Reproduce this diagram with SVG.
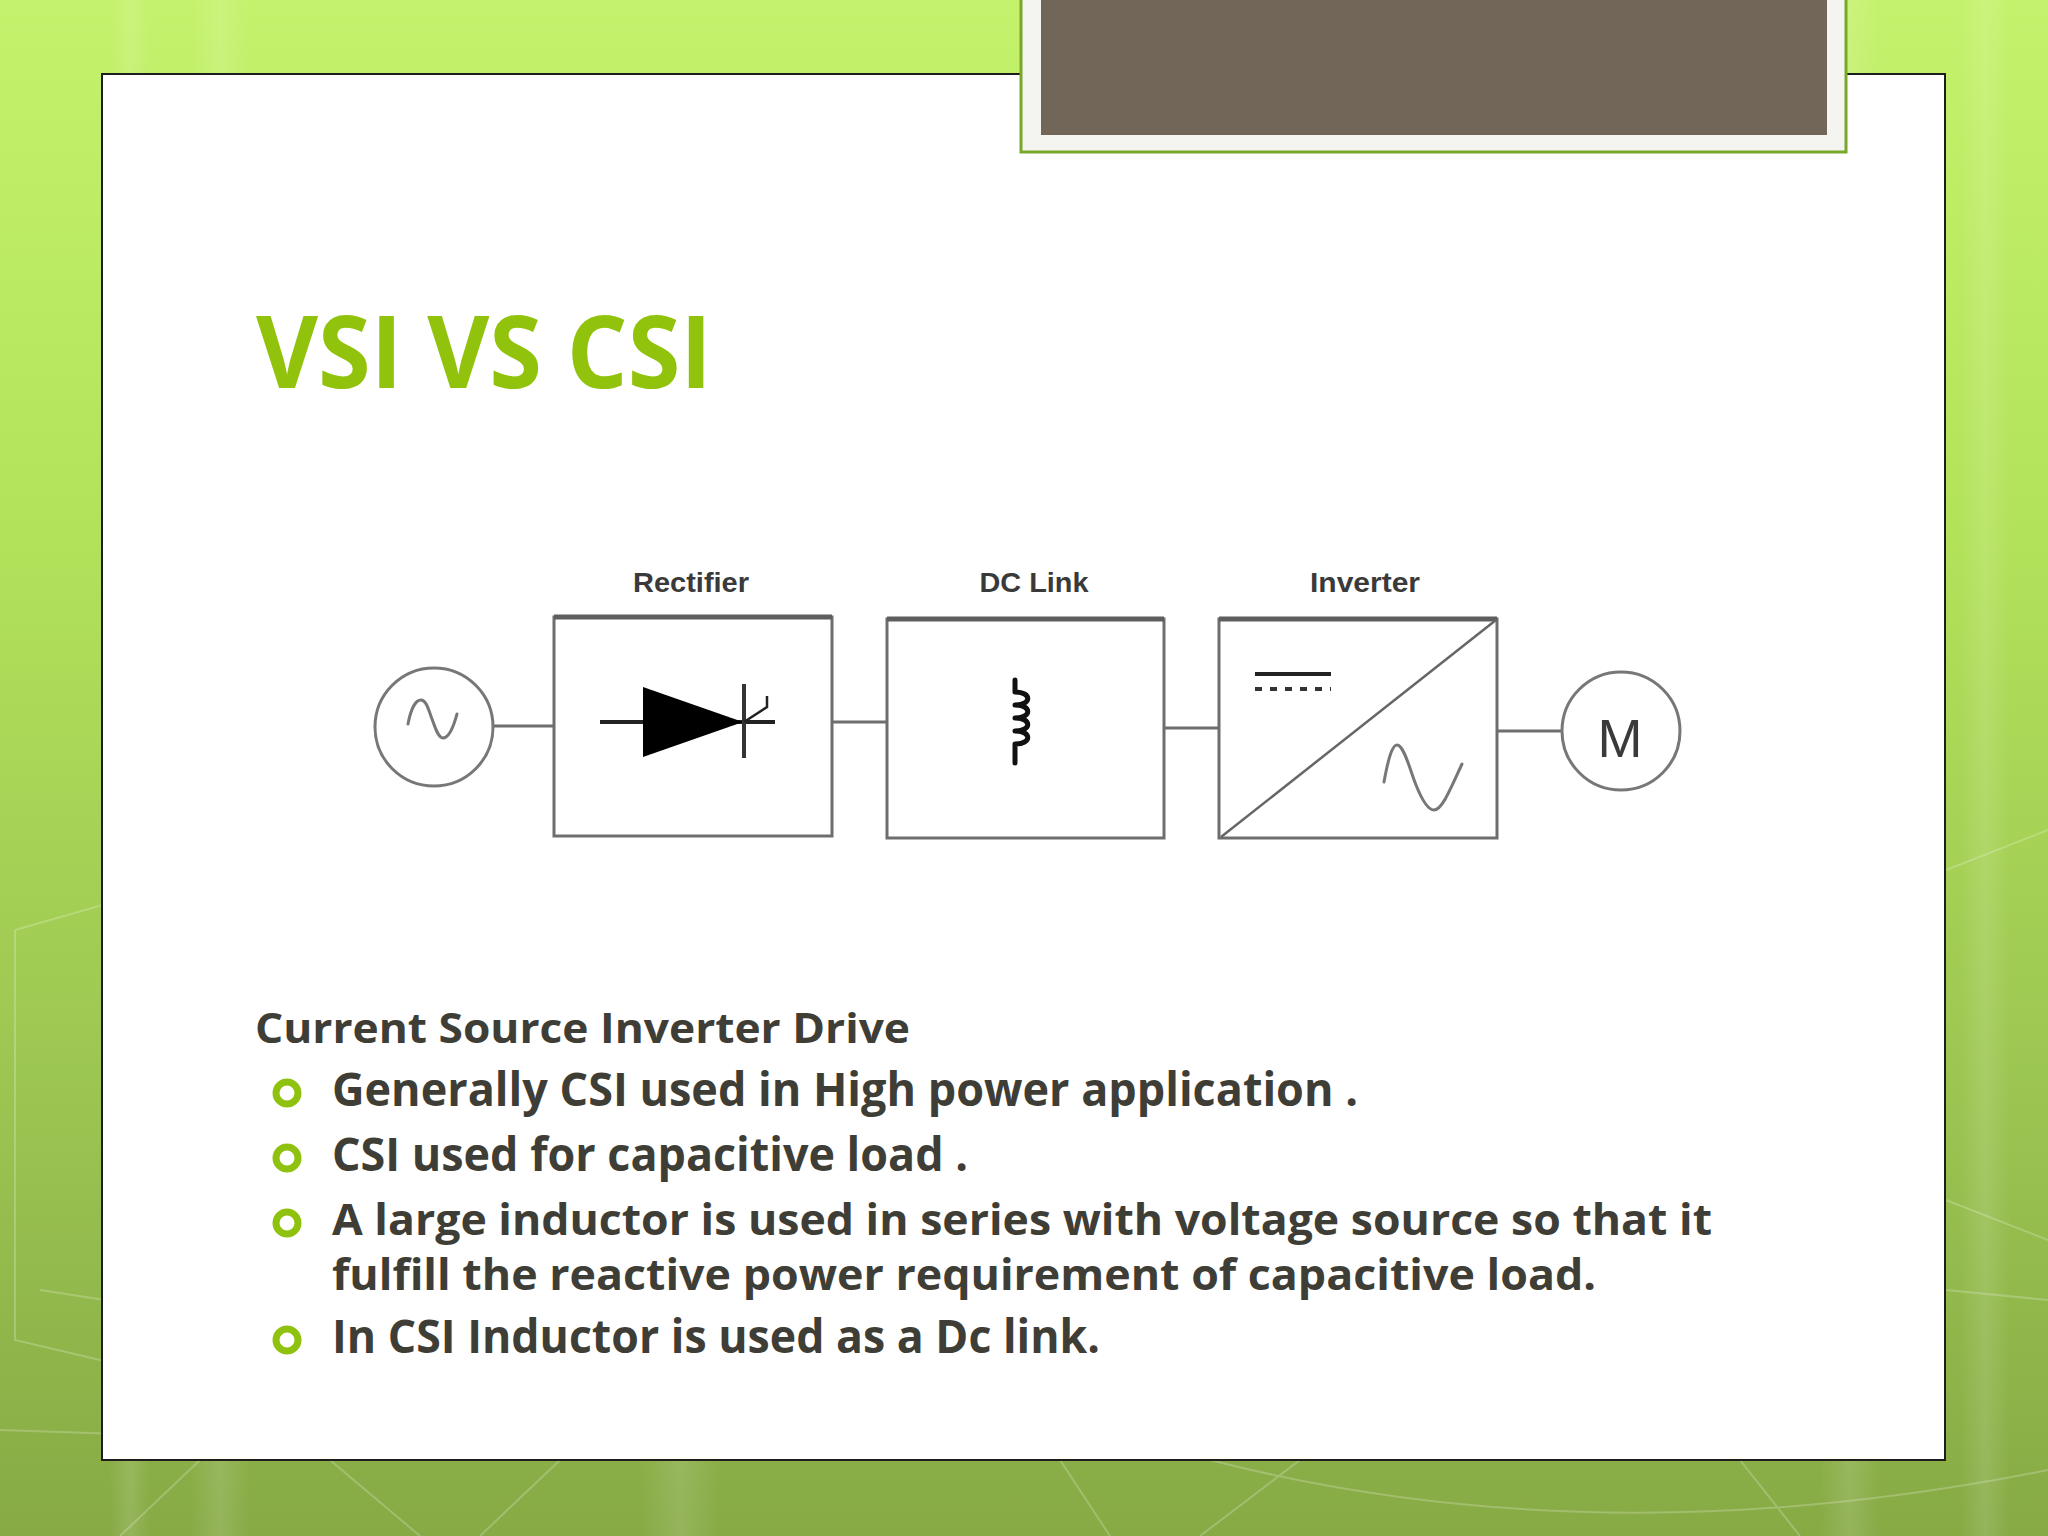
<svg xmlns="http://www.w3.org/2000/svg" width="2048" height="1536" viewBox="0 0 2048 1536">
  <defs>
    <linearGradient id="bg" x1="0" y1="0" x2="0" y2="1">
      <stop offset="0" stop-color="#c4f26c"/>
      <stop offset="0.35" stop-color="#b2e25a"/>
      <stop offset="0.7" stop-color="#9cc652"/>
      <stop offset="1" stop-color="#87aa45"/>
    </linearGradient>
    <linearGradient id="side" x1="0" y1="0" x2="1" y2="0">
      <stop offset="0" stop-color="#ffffff" stop-opacity="0"/>
      <stop offset="0.5" stop-color="#ffffff" stop-opacity="0.12"/>
      <stop offset="1" stop-color="#ffffff" stop-opacity="0"/>
    </linearGradient>
    <style>
      .box { fill: #ffffff; stroke: #6e6e6e; stroke-width: 3; }
      .top { stroke: #5e5e5e; stroke-width: 5; }
      .wire { stroke: #6e6e6e; stroke-width: 3; fill: none; }
      .sym { fill: none; stroke: #777777; stroke-width: 3; stroke-linecap: round; stroke-linejoin: round; }
      .lbl { font-family: "Liberation Sans", Arial, sans-serif; font-weight: bold; font-size: 28px; fill: #3a3a3a; text-anchor: middle; }
      .body { font-family: "Open Sans", "Liberation Sans", sans-serif; font-weight: bold; fill: #3f3e36; }
      .bul { fill: none; stroke: #8fc20f; stroke-width: 7; }
      .deco { fill: none; stroke: #ffffff; stroke-opacity: 0.22; stroke-width: 2; }
    </style>
  </defs>

  <!-- background -->
  <rect x="0" y="0" width="2048" height="1536" fill="url(#bg)"/>
  <rect x="110" y="0" width="40" height="1536" fill="url(#side)"/>
  <rect x="190" y="0" width="60" height="1536" fill="url(#side)"/>
  <rect x="640" y="1460" width="80" height="76" fill="url(#side)"/>
  <rect x="1820" y="0" width="60" height="1536" fill="url(#side)"/>
  <rect x="1960" y="0" width="50" height="1536" fill="url(#side)"/>
  <path class="deco" d="M15,930 L120,900 L300,940 M15,930 L15,1340 L100,1360 L300,1320 M0,1430 L300,1440 M40,1290 L300,1330"/>
  <path class="deco" d="M200,1460 L120,1536 M330,1460 L420,1536 M560,1460 L480,1536 M1060,1460 L1110,1536 M1300,1460 L1200,1536 M1740,1460 L1800,1536 M1210,1460 Q1600,1560 2048,1470"/>
  <path class="deco" d="M1946,870 L2048,830 M1946,1200 L2048,1240 M1946,1290 L2048,1300"/>

  <!-- content panel -->
  <rect x="102" y="74" width="1843" height="1386" fill="#ffffff" stroke="#1e1e1e" stroke-width="2"/>

  <!-- top tab -->
  <g id="tab">
    <rect x="1021" y="-4" width="825" height="156" fill="#f4f4f1" stroke="#78a82a" stroke-width="3"/>
    <rect x="1041" y="0" width="786" height="135" fill="#726659"/>
  </g>

  <!-- title -->
  <text id="title" x="256" y="388" font-family="'Open Sans', 'Liberation Sans', sans-serif" font-weight="bold" font-size="100" fill="#92c30c" textLength="456" lengthAdjust="spacingAndGlyphs">VSI VS CSI</text>

  <!-- connectors -->
  <g id="connectors">
    <line class="wire" x1="493" y1="726" x2="554" y2="726"/>
    <line class="wire" x1="832" y1="722" x2="887" y2="722"/>
    <line class="wire" x1="1164" y1="728" x2="1219" y2="728"/>
    <line class="wire" x1="1497" y1="731" x2="1562" y2="731"/>
  </g>

  <!-- AC source -->
  <g id="source">
    <circle cx="434" cy="727" r="59" fill="#ffffff" stroke="#777777" stroke-width="3"/>
    <path class="sym" d="M408,724 C411,708 416,700 421,700 C427,700 429,712 432,719 C435,727 438,738 443,738 C449,738 454,725 457,714"/>
  </g>

  <!-- Rectifier -->
  <g id="rectifier">
    <rect class="box" x="554" y="617" width="278" height="219"/>
    <line class="top" x1="554" y1="617" x2="832" y2="617"/>
    <text class="lbl" x="691" y="592" textLength="116" lengthAdjust="spacingAndGlyphs">Rectifier</text>
    <line x1="600" y1="722" x2="775" y2="722" stroke="#222222" stroke-width="4"/>
    <polygon points="643,687 743,722 643,757" fill="#000000"/>
    <line x1="744" y1="684" x2="744" y2="758" stroke="#333333" stroke-width="4"/>
    <polyline points="744,722 767,707 767,696" fill="none" stroke="#222222" stroke-width="2.5"/>
  </g>

  <!-- DC Link -->
  <g id="dclink">
    <rect class="box" x="887" y="619" width="277" height="219"/>
    <line class="top" x1="887" y1="619" x2="1164" y2="619"/>
    <text class="lbl" x="1034" y="592" textLength="109" lengthAdjust="spacingAndGlyphs">DC Link</text>
    <path d="M1015,680 V692 c17,0 17,13 0,13 c17,0 17,13 0,13 c17,0 17,13 0,13 c17,0 17,13 0,13 V763" fill="none" stroke="#111111" stroke-width="5" stroke-linecap="round" stroke-linejoin="round"/>
  </g>

  <!-- Inverter -->
  <g id="inverter">
    <rect class="box" x="1219" y="619" width="278" height="219"/>
    <line class="top" x1="1219" y1="619" x2="1497" y2="619"/>
    <text class="lbl" x="1365" y="592" textLength="110" lengthAdjust="spacingAndGlyphs">Inverter</text>
    <line x1="1221" y1="837" x2="1496" y2="620" stroke="#666666" stroke-width="2.5"/>
    <line x1="1255" y1="674" x2="1331" y2="674" stroke="#222222" stroke-width="4"/>
    <line x1="1255" y1="689" x2="1331" y2="689" stroke="#333333" stroke-width="4" stroke-dasharray="7,8"/>
    <path class="sym" d="M1384,782 C1388,760 1392,745 1397,745 C1404,745 1410,770 1416,785 C1422,800 1428,810 1434,810 C1442,810 1450,790 1462,764"/>
  </g>

  <!-- Motor -->
  <g id="motor">
    <circle cx="1621" cy="731" r="59" fill="#ffffff" stroke="#777777" stroke-width="3"/>
    <text x="1620" y="757" font-family="'Liberation Sans', Arial, sans-serif" font-size="54" fill="#3a3a3a" text-anchor="middle">M</text>
  </g>

  <!-- text body -->
  <g id="body">
    <text class="body" x="255" y="1043" font-size="42" textLength="655" lengthAdjust="spacingAndGlyphs">Current Source Inverter Drive</text>
    <circle class="bul" cx="287" cy="1093" r="11"/>
    <text class="body" x="332" y="1106" font-size="46" textLength="1026" lengthAdjust="spacingAndGlyphs">Generally CSI used in High power application .</text>
    <circle class="bul" cx="287" cy="1158" r="11"/>
    <text class="body" x="332" y="1171" font-size="46" textLength="636" lengthAdjust="spacingAndGlyphs">CSI used for capacitive load .</text>
    <circle class="bul" cx="287" cy="1223" r="11"/>
    <text class="body" font-size="43"><tspan x="332" y="1235" textLength="1380" lengthAdjust="spacingAndGlyphs">A large inductor is used in series with voltage source so that it</tspan><tspan x="332" y="1290" textLength="1264" lengthAdjust="spacingAndGlyphs">fulfill the reactive power requirement of capacitive load.</tspan></text>
    <circle class="bul" cx="287" cy="1340" r="11"/>
    <text class="body" x="332" y="1353" font-size="46" textLength="768" lengthAdjust="spacingAndGlyphs">In CSI Inductor is used as a Dc link.</text>
  </g>
</svg>
